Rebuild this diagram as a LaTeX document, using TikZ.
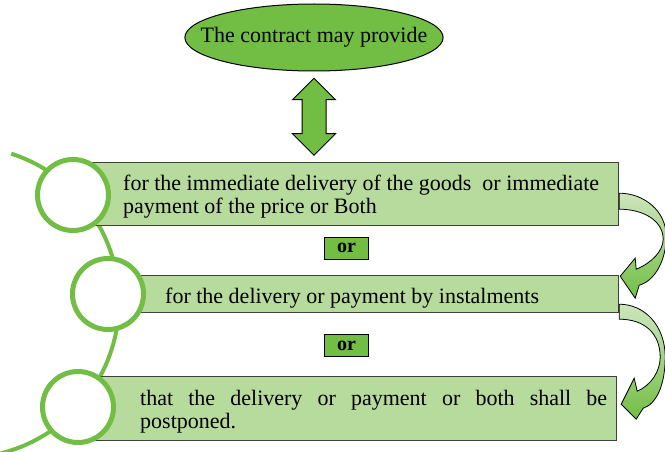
\documentclass[tikz,border=0pt]{standalone}
\usepackage{fontspec}
\setmainfont{Liberation Serif}
\usetikzlibrary{positioning,shapes.geometric,shapes.arrows}

\definecolor{leafgreen}{RGB}{114,190,68}
\definecolor{palegreen}{RGB}{183,218,157}
\definecolor{fadegreen}{RGB}{205,230,188}
\definecolor{edgegray}{RGB}{64,64,64}

\begin{document}
\begin{tikzpicture}[x=1pt,y=-1pt,
  every node/.style={font=\fontsize{22}{23}\selectfont},
  itembox/.style={draw=edgegray, line width=1.2pt, fill=palegreen, inner sep=0pt, anchor=north west},
  itemtext/.style={inner sep=0pt, anchor=base west},
  ring/.style={circle, draw=leafgreen, line width=5pt, fill=white, minimum size=71pt, inner sep=0pt},
  orbox/.style={draw, line width=1pt, fill=leafgreen, minimum width=44pt, minimum height=22pt, inner sep=0pt, font=\fontsize{20}{22}\selectfont\bfseries},
  turnarrow/.style={draw, line width=0.8pt, top color=fadegreen, bottom color=leafgreen}
]
\useasboundingbox (0,0) rectangle (665,452);
% green spine behind the rings
\draw[leafgreen, line width=4pt] (-37,302) ++(-72:156) arc[start angle=-72, end angle=76, radius=156];

\node[draw, line width=1pt, fill=leafgreen, ellipse, minimum width=258pt, minimum height=67pt, inner xsep=-22pt, inner ysep=0pt] (contract) at (314,37.5) {The contract may provide};
\node[draw, line width=1pt, fill=leafgreen, double arrow, shape border rotate=90, double arrow head extend=9.5pt, minimum height=77pt, inner sep=11.5pt, below=6pt of contract] (link) {};

% the three options
\node[itembox, minimum width=545pt, minimum height=63pt] (box1) at (73,162) {};
\node[itembox, minimum width=510pt, minimum height=37pt] (box2) at (108,275) {};
\node[itembox, minimum width=538pt, minimum height=64pt] (box3) at (78,376) {};
\node[itemtext, text width=495pt, align=flush left] (text1) at (123,190) {for the immediate delivery of the goods\ \ or immediate\\payment of the price or Both};
\node[itemtext] (text2) at (165,303) {for the delivery or payment by instalments};
\node[itemtext, text width=467pt, align=justify] (text3) at (140,405) {that the delivery or payment or both shall be\break postponed.};

\node[ring] (ring1) at (73,195) {};
\node[ring] (ring2) at (108,294) {};
\node[ring] (ring3) at (78,407) {};

\node[orbox] (or1) at (346.5,248) {or};
\node[orbox] (or2) at (346.5,345.5) {or};

% curved arrows on the right
\begin{scope}[shift={(box1.south east)}]
\draw[turnarrow] (0,-33) .. controls (25,-33) and (47,-15) .. (47,10) .. controls (47,35) and (35,55) .. (20,59) -- (16,72) -- (1,50) -- (16,32) -- (17,43) .. controls (32,37) and (44,25) .. (44,13) .. controls (44,-5) and (25,-17) .. (0,-17) -- cycle;
\end{scope}
\begin{scope}[shift={(box2.south east)}]
\draw[turnarrow] (0,-9) .. controls (25,-9) and (46,12) .. (46,44) .. controls (46,72) and (37,91) .. (24,95) -- (17,106) -- (2,91) -- (15,65) -- (18,78) .. controls (32,72) and (41,58) .. (41,44) .. controls (41,20) and (25,6) .. (0,6) -- cycle;
\end{scope}
\end{tikzpicture}
\end{document}
